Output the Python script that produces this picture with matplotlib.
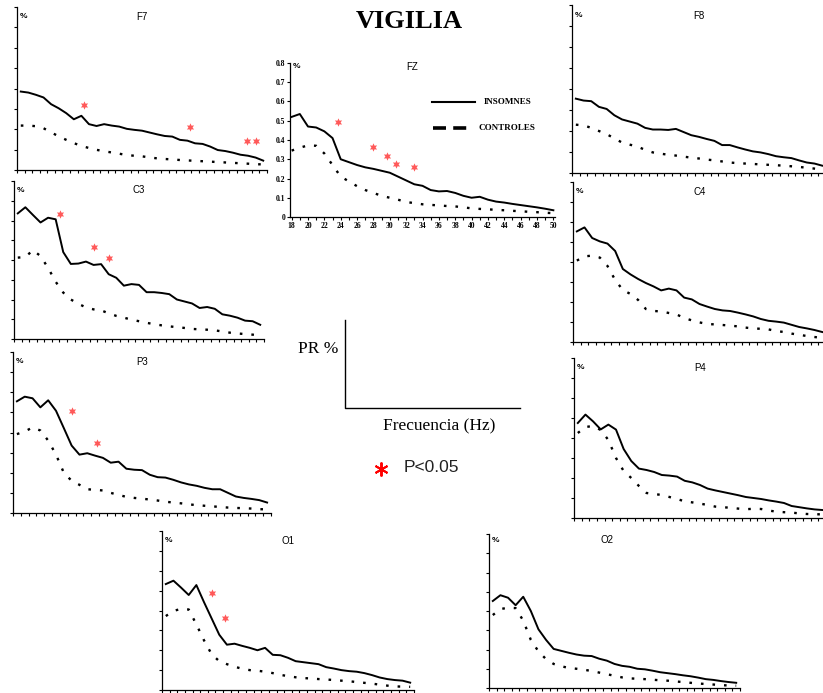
import numpy as np
import matplotlib.pyplot as plt
from matplotlib.lines import Line2D

freq = np.arange(18, 51)

f7_ins = [0.385, 0.380, 0.369, 0.356, 0.323, 0.303, 0.279, 0.249, 0.266, 0.225, 0.216,
          0.225, 0.218, 0.213, 0.202, 0.197, 0.193, 0.184, 0.175, 0.167, 0.164, 0.148,
          0.144, 0.131, 0.128, 0.115, 0.098, 0.093, 0.085, 0.075, 0.070, 0.061, 0.046]
f7_ctl = [0.218, 0.218, 0.215, 0.205, 0.185, 0.165, 0.148, 0.132, 0.118, 0.108, 0.099,
          0.092, 0.086, 0.080, 0.073, 0.070, 0.067, 0.062, 0.057, 0.054, 0.052, 0.049,
          0.047, 0.045, 0.043, 0.041, 0.039, 0.037, 0.035, 0.033, 0.031, 0.028, 0.028]
f7_star_x = [26.3, 40.4, 47.8, 49.1]
f7_star_y = [0.32, 0.213, 0.141, 0.141]

fz_ins = [0.52, 0.535, 0.47, 0.465, 0.445, 0.41, 0.30, 0.285, 0.27, 0.258, 0.25,
          0.24, 0.23, 0.21, 0.19, 0.17, 0.162, 0.14, 0.133, 0.135, 0.125, 0.11,
          0.10, 0.105, 0.09, 0.08, 0.075, 0.068, 0.062, 0.056, 0.05, 0.043, 0.035]
fz_ctl = [0.345, 0.36, 0.372, 0.37, 0.33, 0.27, 0.21, 0.185, 0.16, 0.14, 0.125,
          0.11, 0.10, 0.09, 0.078, 0.072, 0.066, 0.063, 0.06, 0.057, 0.055, 0.05,
          0.045, 0.042, 0.04, 0.037, 0.035, 0.032, 0.03, 0.027, 0.025, 0.022, 0.02]
fz_star_x = [23.7, 28.0, 29.6, 30.8, 32.9]
fz_star_y = [0.496, 0.362, 0.317, 0.275, 0.26]

f8_ins = [0.354, 0.345, 0.342, 0.315, 0.305, 0.275, 0.255, 0.245, 0.235, 0.215, 0.207,
          0.207, 0.205, 0.21, 0.195, 0.18, 0.172, 0.162, 0.153, 0.133, 0.133, 0.122,
          0.112, 0.103, 0.098, 0.09, 0.08, 0.075, 0.071, 0.06, 0.05, 0.045, 0.035]
f8_ctl = [0.23, 0.227, 0.215, 0.2, 0.185, 0.165, 0.145, 0.135, 0.126, 0.11, 0.098,
          0.092, 0.087, 0.083, 0.078, 0.073, 0.069, 0.064, 0.06, 0.055, 0.05, 0.047,
          0.045, 0.043, 0.041, 0.039, 0.037, 0.035, 0.032, 0.029, 0.025, 0.021, 0.017]

c3_ins = [0.636, 0.667, 0.628, 0.59, 0.614, 0.606, 0.44, 0.38, 0.382, 0.392, 0.375,
          0.379, 0.328, 0.31, 0.27, 0.278, 0.274, 0.237, 0.237, 0.233, 0.227, 0.2,
          0.19, 0.18, 0.157, 0.162, 0.153, 0.125, 0.118, 0.108, 0.093, 0.09, 0.072]
c3_ctl = [0.412, 0.415, 0.45, 0.42, 0.36, 0.29, 0.235, 0.2, 0.178, 0.16, 0.15,
          0.145, 0.13, 0.117, 0.108, 0.098, 0.09, 0.082, 0.075, 0.069, 0.064, 0.06,
          0.056, 0.051, 0.049, 0.047, 0.044, 0.038, 0.032, 0.028, 0.025, 0.022, 0.018]
c3_star_x = [23.6, 28.0, 30.0]
c3_star_y = [0.633, 0.468, 0.412]

c4_ins = [0.553, 0.573, 0.52, 0.503, 0.492, 0.455, 0.365, 0.338, 0.315, 0.295, 0.278,
          0.258, 0.267, 0.258, 0.222, 0.213, 0.19, 0.177, 0.165, 0.158, 0.155, 0.147,
          0.138, 0.128, 0.115, 0.106, 0.102, 0.097, 0.086, 0.075, 0.068, 0.06, 0.05]
c4_ctl = [0.407, 0.428, 0.432, 0.422, 0.38, 0.31, 0.26, 0.24, 0.21, 0.165, 0.155,
          0.153, 0.145, 0.138, 0.12, 0.108, 0.098, 0.09, 0.088, 0.085, 0.082, 0.078,
          0.072, 0.068, 0.066, 0.063, 0.055, 0.05, 0.042, 0.036, 0.03, 0.025, 0.02]

p3_ins = [0.555, 0.578, 0.57, 0.525, 0.56, 0.508, 0.422, 0.335, 0.29, 0.297, 0.285,
          0.274, 0.25, 0.255, 0.22, 0.215, 0.213, 0.19, 0.178, 0.176, 0.165, 0.152,
          0.142, 0.135, 0.125, 0.118, 0.118, 0.1, 0.082, 0.075, 0.07, 0.064, 0.052]
p3_ctl = [0.392, 0.405, 0.425, 0.41, 0.36, 0.29, 0.2, 0.16, 0.14, 0.118, 0.115,
          0.112, 0.1, 0.09, 0.08, 0.075, 0.071, 0.067, 0.062, 0.056, 0.052, 0.048,
          0.043, 0.039, 0.036, 0.033, 0.03, 0.027, 0.025, 0.024, 0.022, 0.019, 0.018]
p3_star_x = [25.05, 28.26]
p3_star_y = [0.505, 0.347]

p4_ins = [0.475, 0.517, 0.483, 0.443, 0.467, 0.442, 0.345, 0.285, 0.247, 0.24, 0.23,
          0.215, 0.212, 0.207, 0.186, 0.178, 0.165, 0.147, 0.138, 0.13, 0.122, 0.114,
          0.105, 0.1, 0.095, 0.088, 0.082, 0.075, 0.06, 0.054, 0.048, 0.043, 0.04]
p4_ctl = [0.425, 0.455, 0.46, 0.44, 0.39, 0.3, 0.235, 0.2, 0.16, 0.125, 0.12,
          0.115, 0.105, 0.095, 0.083, 0.078, 0.072, 0.065, 0.057, 0.054, 0.051, 0.047,
          0.044, 0.046, 0.045, 0.037, 0.032, 0.029, 0.027, 0.023, 0.02, 0.019, 0.018]

o1_ins = [0.533, 0.55, 0.515, 0.478, 0.528, 0.442, 0.36, 0.278, 0.228, 0.233, 0.222,
          0.212, 0.2, 0.212, 0.177, 0.175, 0.162, 0.145, 0.14, 0.135, 0.13, 0.115,
          0.108, 0.1, 0.095, 0.092, 0.085, 0.075, 0.063, 0.055, 0.05, 0.047, 0.037]
o1_ctl = [0.372, 0.398, 0.408, 0.405, 0.33, 0.25, 0.18, 0.145, 0.13, 0.117, 0.107,
          0.1, 0.097, 0.092, 0.085, 0.076, 0.07, 0.064, 0.06, 0.058, 0.055, 0.053,
          0.05, 0.047, 0.044, 0.04, 0.036, 0.032, 0.027, 0.022, 0.018, 0.017, 0.016]
o1_star_x = [24.1, 25.8]
o1_star_y = [0.487, 0.363]

o2_ins = [0.452, 0.482, 0.469, 0.43, 0.474, 0.4, 0.305, 0.25, 0.203, 0.193, 0.183,
          0.174, 0.168, 0.166, 0.152, 0.142, 0.125, 0.115, 0.11, 0.1, 0.097, 0.09,
          0.082, 0.077, 0.072, 0.066, 0.061, 0.054, 0.046, 0.042, 0.036, 0.031, 0.027]
o2_ctl = [0.379, 0.41, 0.417, 0.415, 0.35, 0.25, 0.19, 0.15, 0.125, 0.113, 0.104,
          0.1, 0.095, 0.088, 0.08, 0.072, 0.063, 0.055, 0.05, 0.048, 0.046, 0.043,
          0.04, 0.038, 0.034, 0.031, 0.027, 0.023, 0.021, 0.018, 0.015, 0.013, 0.012]

W, H = 823, 693
fig = plt.figure(figsize=(W / 100, H / 100), dpi=100)

SERIF = ['Liberation Serif', 'DejaVu Serif']
SANS = ['Liberation Sans', 'DejaVu Sans']


def panel(x0, x1, ytop, ybot, ins, ctl, name, sx=None, sy=None, tpos=(0.5, 0.94), labels=False):
    ax = fig.add_axes([x0 / W, 1 - ybot / H, (x1 - x0) / W, (ybot - ytop) / H])
    ax.plot(freq, ins, color='black', lw=1.4)
    ax.plot(freq, ctl, color='black', lw=1.7, ls=(0, (1.1, 3.8)))
    if sx is not None:
        ax.plot(sx, sy, ls='none', marker=(6, 1, 0), ms=6, color='#ff3030', alpha=0.8, mew=0)
    ax.set_ylim(0, 0.8)
    ax.set_yticks(np.arange(0, 0.81, 0.1))
    for s in ['top', 'right']:
        ax.spines[s].set_visible(False)
    ax.spines['left'].set_linewidth(0.9)
    ax.spines['bottom'].set_linewidth(0.9)
    ax.tick_params(direction='out', length=2.5, width=0.8, pad=1)
    if labels:
        ax.set_xlim(17.8, 50.2)
        ax.set_xticks(freq)
        ax.set_xticklabels([str(f) if f % 2 == 0 else '' for f in freq])
        ax.set_yticklabels(['0'] + ['%.1f' % v for v in np.arange(0.1, 0.81, 0.1)])
        for lab in ax.get_xticklabels() + ax.get_yticklabels():
            lab.set_fontfamily(SERIF)
            lab.set_fontweight('bold')
            lab.set_fontsize(5.5)
    else:
        ax.set_xlim(17.5, 50.5)
        ax.set_xticks(np.arange(17.5, 51, 1))
        ax.set_xticklabels([])
        ax.set_yticklabels([])
    ax.text(tpos[0], tpos[1], name, transform=ax.transAxes, ha='center', va='center',
            fontsize=7, family=SANS)
    ax.text(0.01, tpos[1], '%', transform=ax.transAxes, ha='left', va='center',
            fontsize=6, family=SANS, fontweight='bold')
    return ax


panel(17, 267, 7, 170, f7_ins, f7_ctl, 'F7', f7_star_x, f7_star_y)
fz = panel(290, 555, 63, 217, fz_ins, fz_ctl, 'FZ', fz_star_x, fz_star_y, tpos=(0.46, 0.975), labels=True)
panel(572, 826, 5, 173, f8_ins, f8_ctl, 'F8', tpos=(0.5, 0.935))
panel(14, 264, 181, 339, c3_ins, c3_ctl, 'C3', c3_star_x, c3_star_y)
panel(573, 826, 182, 342, c4_ins, c4_ctl, 'C4')
panel(13, 271, 352, 513, p3_ins, p3_ctl, 'P3', p3_star_x, p3_star_y)
panel(574, 826, 358, 518, p4_ins, p4_ctl, 'P4')
panel(162, 414, 531, 690, o1_ins, o1_ctl, 'O1', o1_star_x, o1_star_y)
panel(489, 740, 534, 688, o2_ins, o2_ctl, 'O2', tpos=(0.47, 0.96))

# legend inside FZ
fz.plot([0.536, 0.698], [0.747, 0.747], transform=fz.transAxes, color='black', lw=1.5, clip_on=False)
fz.plot([0.540, 0.690], [0.578, 0.578], transform=fz.transAxes, color='black', lw=2.6,
        ls=(0, (3.6, 2.0)), clip_on=False)
fz.text(0.73, 0.747, 'INSOMNES', transform=fz.transAxes, va='center', ha='left',
        fontsize=6.5, family=SERIF, fontweight='bold')
fz.text(0.713, 0.578, 'CONTROLES', transform=fz.transAxes, va='center', ha='left',
        fontsize=6.5, family=SERIF, fontweight='bold')

fig.text(409 / W, 1 - 22 / H, 'VIGILIA', ha='center', va='center', fontsize=19,
         family=SERIF, fontweight='bold')

# schematic axes
fig.add_artist(Line2D([345 / W, 345 / W, 520 / W], [1 - 320 / H, 1 - 408 / H, 1 - 408 / H],
                      color='black', lw=1.0))
fig.text(318 / W, 1 - 349 / H, 'PR %', ha='center', va='center', fontsize=12.5, family=SERIF)
fig.text(439 / W, 1 - 426 / H, 'Frecuencia (Hz)', ha='center', va='center', fontsize=12.5,
         family=SERIF)
fig.add_artist(Line2D([381 / W], [1 - 469 / H], marker=(6, 2, 0), ms=10, mew=1.4,
                      color='red', ls='none'))
fig.text(404 / W, 1 - 468 / H, 'P<0.05', ha='left', va='center', fontsize=12.5,
         family=SANS, color='#222222')

fig.savefig('out.png', dpi=100)
